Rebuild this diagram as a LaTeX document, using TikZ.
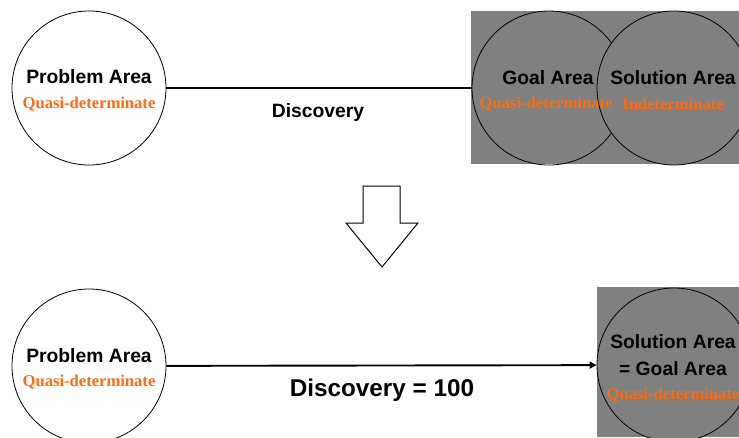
\documentclass[tikz,border=0pt]{standalone}
\usepackage{fontspec}
\setmainfont{Liberation Serif}
\setsansfont{Liberation Sans}
\usetikzlibrary{arrows.meta}
\definecolor{areagray}{RGB}{128,128,128}
\definecolor{qorange}{RGB}{255,108,16}
\tikzset{
  area/.style={circle,draw=black,line width=0.8pt,minimum size=154pt,inner sep=0pt},
  title/.style={font=\sffamily\bfseries\fontsize{19.3}{21}\selectfont,text=black,inner sep=0pt},
  qual/.style={font=\rmfamily\bfseries\fontsize{16.6}{18}\selectfont,text=qorange,inner sep=0pt},
  conn/.style={line width=1.9pt,draw=black},
  bigtitle/.style={font=\sffamily\bfseries\fontsize{24.3}{26}\selectfont,inner sep=0pt}
}
\begin{document}
\begin{tikzpicture}[x=1pt,y=-1pt]
\useasboundingbox (0,0) rectangle (739,437);
\clip (0,0) rectangle (739,437);
% top row
\fill[areagray] (471,11) rectangle (739,164);
\node[area,fill=white] (p1) at (89,88) {};
\node[area] (g1) at (549,88) {};
\node[area,fill=areagray] (s1) at (674,88) {};
\node[title] (p1t) at (89,77) {Problem Area};
\node[qual] (p1q) at (89,104) {Quasi-determinate};
\node[title] (g1t) at (548,78) {Goal Area};
\node[qual] (g1q) at (546,104) {Quasi-determinate};
\node[title] (s1t) at (673,78) {Solution Area};
\node[qual] (s1q) at (673,104) {Indeterminate};
\draw[conn] (p1) -- (g1);
\node[title] (d1) at (318,113) {Discovery};
% big arrow
\draw[line width=1pt,fill=white,line join=miter]
  (363,186) -- (400,186) -- (400,223) -- (418,223) -- (382,267)
  -- (346,223) -- (363,223) -- cycle;
% bottom row
\fill[areagray] (597,287) rectangle (739,437);
\node[area,fill=white] (p2) at (89,366) {};
\node[area,fill=areagray] (s2) at (674,365) {};
\node[title] (p2t) at (89,356) {Problem Area};
\node[qual] (p2q) at (89,382) {Quasi-determinate};
\node[title] (s2t) at (673,342) {Solution Area};
\node[title] (s2g) at (673,369) {= Goal Area};
\node[qual] (s2q) at (673,395) {Quasi-determinate};
\draw[conn,-{Triangle[length=7pt,width=7pt]}] (p2) -- (s2);
\node[bigtitle] (d2) at (382,390) {Discovery = 100};
\end{tikzpicture}
\end{document}
